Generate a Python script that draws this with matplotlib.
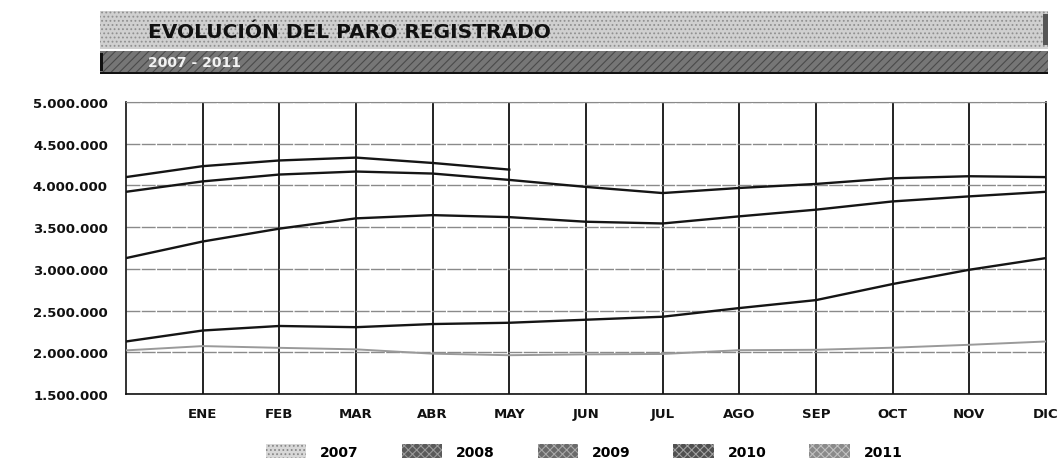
import matplotlib
matplotlib.use('Agg')
import matplotlib.pyplot as plt
from matplotlib.patches import Rectangle, Patch
from matplotlib.ticker import FuncFormatter
import numpy as np

# meses (la posición 0 es diciembre del año anterior)
meses = ['ENE', 'FEB', 'MAR', 'ABR', 'MAY', 'JUN',
         'JUL', 'AGO', 'SEP', 'OCT', 'NOV', 'DIC']
anios = ['2007', '2008', '2009', '2010', '2011']

paro_2007 = [2022873, 2074380, 2053470, 2035312, 1983422, 1965000, 1975000,
             1980000, 2025000, 2030000, 2055000, 2090000, 2129547]
paro_2008 = [2129547, 2261020, 2315331, 2300975, 2338517, 2353985, 2390403,
             2426185, 2530001, 2625368, 2818026, 2989269, 3128963]
paro_2009 = [3128963, 3327801, 3481859, 3605402, 3644041, 3620139, 3564889,
             3544105, 3629485, 3709447, 3808353, 3868946, 3923603]
paro_2010 = [3923603, 4048493, 4130625, 4166613, 4142425, 4066202, 3982368,
             3908685, 3969661, 4017763, 4085976, 4110294, 4100073]
paro_2011 = [4100073, 4231003, 4299263, 4333669, 4269360, 4189659]

series = [paro_2007, paro_2008, paro_2009, paro_2010, paro_2011]
colores = ['#9a9a9a', '#151515', '#151515', '#151515', '#151515']
grosor = [1.4, 1.7, 1.7, 1.7, 1.7]

plt.rcParams['font.family'] = ['DejaVu Sans']
plt.rcParams['hatch.linewidth'] = 0.8

fig = plt.figure(figsize=(10.64, 4.64), dpi=100)
ax = fig.add_axes([0.1184, 0.1487, 0.8646, 0.6293])

#cabecera
cab = Rectangle((0.094, 0.892), 0.891, 0.082, transform=fig.transFigure,
                facecolor='#d0d0d0', edgecolor='#909090', hatch='....', lw=0)
fig.patches.append(cab)
fig.patches.append(Rectangle((0.980, 0.900), 0.005, 0.068, transform=fig.transFigure,
                             facecolor='#555555', lw=0))
sub = Rectangle((0.094, 0.840), 0.891, 0.048, transform=fig.transFigure,
                facecolor='#767676', edgecolor='#4a4a4a', hatch='////', lw=0)
fig.patches.append(sub)
fig.patches.append(Rectangle((0.094, 0.838), 0.891, 0.004, transform=fig.transFigure,
                             facecolor='#111111', lw=0))
fig.patches.append(Rectangle((0.094, 0.845), 0.003, 0.038, transform=fig.transFigure,
                             facecolor='#111111', lw=0))

fig.text(0.139, 0.931, 'EVOLUCIÓN DEL PARO REGISTRADO', fontsize=14.5,
         fontweight='heavy', color='#111111', va='center', ha='left')
fig.text(0.139, 0.864, '2007 - 2011', fontsize=10, fontweight='bold',
         color='#f2f2f2', va='center', ha='left')

#lineas
for vals, c, lw in zip(series, colores, grosor):
    ax.plot(np.arange(len(vals)), vals, color=c, lw=lw, zorder=3)

ax.set_xlim(0, 12)
ax.set_ylim(1500000, 5000000)
ax.set_xticks(np.arange(1, 13))
ax.set_xticklabels(meses)
ax.set_yticks(np.arange(1500000, 5000001, 500000))
ax.yaxis.set_major_formatter(FuncFormatter(lambda v, p: f'{v:,.0f}'.replace(',', '.')))

ax.tick_params(axis='both', length=0, labelsize=9.5, colors='#111111')
ax.tick_params(axis='y', pad=13)
ax.tick_params(axis='x', pad=9)
for lab in ax.get_xticklabels() + ax.get_yticklabels():
    lab.set_fontweight('bold')

ax.xaxis.grid(True, color='#111111', lw=1.3)
ax.yaxis.grid(True, color='#8a8a8a', lw=1.0, linestyle=(0, (10, 1)))
ax.set_axisbelow(True)
for s in ['left', 'bottom', 'right']:
    ax.spines[s].set_color('#111111')
    ax.spines[s].set_linewidth(1.2)
ax.spines['top'].set_color('#8a8a8a')
ax.spines['top'].set_linestyle((0, (10, 1)))

#leyenda
handles = [
    Patch(facecolor='#d8d8d8', edgecolor='#888888', hatch='....', lw=0),
    Patch(facecolor='#5a5a5a', edgecolor='#9a9a9a', hatch='xxxx', lw=0),
    Patch(facecolor='#6a6a6a', edgecolor='#a8a8a8', hatch='xxxx', lw=0),
    Patch(facecolor='#505050', edgecolor='#a0a0a0', hatch='xxxx', lw=0),
    Patch(facecolor='#8a8a8a', edgecolor='#c0c0c0', hatch='xxxx', lw=0),
]
leg = fig.legend(handles, anios, loc='center', bbox_to_anchor=(0.549, 0.025),
                 ncol=5, frameon=False, handlelength=2.9, handleheight=1.2,
                 handletextpad=1.0, columnspacing=3.1,
                 prop={'size': 10, 'weight': 'bold'})

fig.savefig('out.png', dpi=100)
